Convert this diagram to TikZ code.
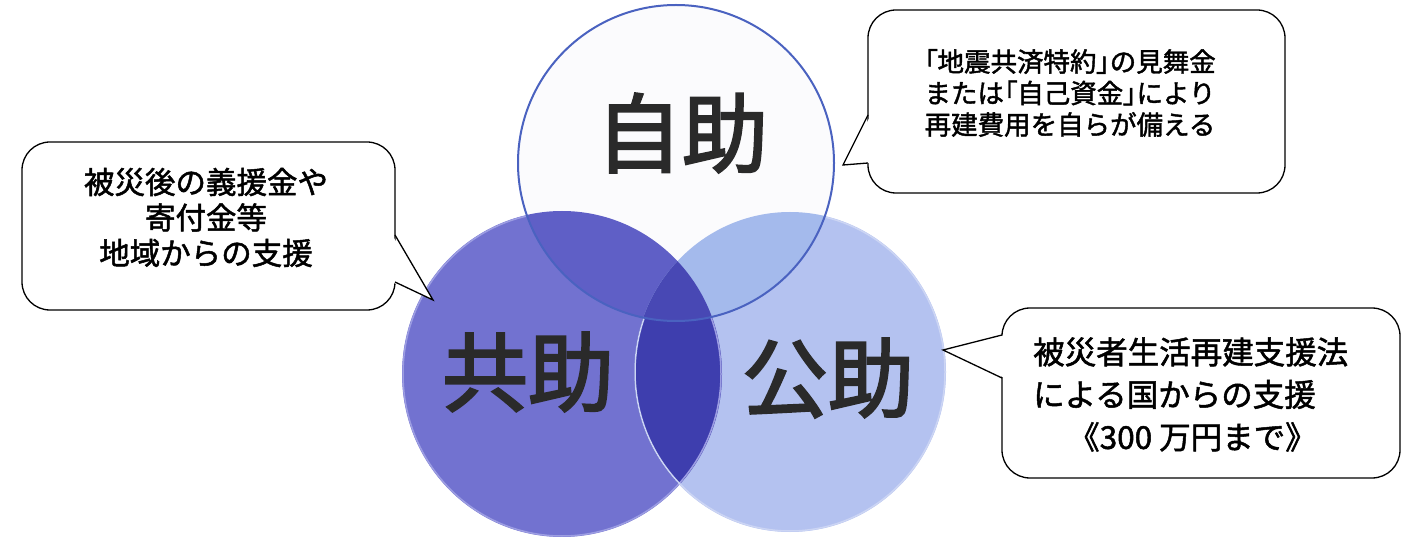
\documentclass[tikz,border=0pt]{standalone}
\usepackage{fontspec}
\newfontfamily\jp[FakeBold=1.6]{Noto Sans CJK JP}
\newfontfamily\jpbig[FakeBold=2.6]{Noto Sans CJK JP}
\newfontfamily\jpp[RawFeature=+palt,FakeBold=1.6]{Noto Sans CJK JP}
\definecolor{kcol}{HTML}{7272D0}
\definecolor{pcol}{HTML}{B4C2F0}
\definecolor{kpcol}{HTML}{3E3EAE}
\definecolor{jcol}{HTML}{FBFBFD}
\definecolor{jkcol}{HTML}{5F5FC6}
\definecolor{jpcol}{HTML}{A4BAEC}
\definecolor{jkpcol}{HTML}{4848B4}
\definecolor{jborder}{HTML}{4A62C0}
\definecolor{kborder}{HTML}{9C9DE2}
\definecolor{pborder}{HTML}{CCD5F4}
\definecolor{labelcol}{HTML}{2A2A2A}
\tikzset{
  ring/.style={circle, inner sep=0pt, outer sep=0pt},
  biglabel/.style={font=\jpbig\fontsize{86}{90}\selectfont, text=labelcol, inner sep=0pt},
  bubble/.style={draw=black, line width=1.3pt, fill=white, rounded corners=28pt, inner sep=0pt},
  calloutline/.style={draw=black, line width=1.3pt, line join=miter},
  bubbletext/.style={inner sep=0pt, text=black}
}
\begin{document}
\begin{tikzpicture}[x=1pt,y=-1pt]
\useasboundingbox (0,0) rectangle (1417,537);
\clip (0,0) rectangle (1417,537);
\fill[white] (0,0) rectangle (1417,537);

% circle nodes
\node[ring, minimum size=316pt] (J) at (676,163) {};
\node[ring, minimum size=320pt] (K) at (562,374) {};
\node[ring, minimum size=312pt] (P) at (790,372) {};

% fills
\fill[kcol] (K.center) circle[x radius=160, y radius=163];
\fill[pcol] (P.center) circle[x radius=156, y radius=160];
\begin{scope}
  \clip (K.center) circle[x radius=160, y radius=163];
  \fill[kpcol] (P.center) circle[x radius=156, y radius=160];
\end{scope}
\draw[kborder, line width=1.5pt] (K.center) circle[x radius=159, y radius=162];
\draw[pborder, line width=1.5pt] (P.center) circle[x radius=155, y radius=159];
\fill[jcol] (J.center) circle[radius=158];
\begin{scope}
  \clip (J.center) circle[radius=158];
  \fill[jkcol] (K.center) circle[x radius=160, y radius=163];
  \fill[jpcol] (P.center) circle[x radius=156, y radius=160];
  \clip (K.center) circle[x radius=160, y radius=163];
  \fill[jkpcol] (P.center) circle[x radius=156, y radius=160];
\end{scope}
\draw[jborder, line width=2pt] (J.center) circle[radius=158];

% big labels
\node[biglabel] (jl) at (682,133) {自助};
\node[biglabel] (kl) at (528,372) {共助};
\node[biglabel] (pl) at (828,378) {公助};

% top-right callout
\node[bubble, minimum width=417pt, minimum height=183pt] (tr) at (1076.5,101.5) {};
\coordinate (trA) at (868,115);
\coordinate (trB) at (868,163);
\coordinate (trT) at (843,165);
\fill[white] (871,115) -- (trT) -- (871,163) -- cycle;
\draw[calloutline] (trA) -- (trT) -- (trB);
\node[bubbletext, align=center, font=\jp\fontsize{26.5}{31.5}\selectfont] (trt) at (1070,93)
  {{\jpp 「}地震共済特約{\jpp 」}の見舞金\\または{\jpp 「}自己資金{\jpp 」}により\\再建費用を自らが備える};

% left callout
\node[bubble, minimum width=373pt, minimum height=168pt] (lf) at (208.5,226) {};
\coordinate (lfA) at (395,235);
\coordinate (lfB) at (395,282);
\coordinate (lfT) at (433,300);
\fill[white] (392,235) -- (lfT) -- (392,282) -- cycle;
\draw[calloutline] (lfA) -- (lfT) -- (lfB);
\node[bubbletext, align=center, font=\jp\fontsize{30.5}{35.5}\selectfont] (lft) at (206,217.5)
  {被災後の義援金や\\寄付金等\\地域からの支援};

% right callout
\node[bubble, minimum width=398pt, minimum height=170pt] (rt) at (1201,393) {};
\coordinate (rtA) at (1002,335);
\coordinate (rtB) at (1002,378);
\coordinate (rtT) at (943,350);
\fill[white] (1005,335) -- (rtT) -- (1005,378) -- cycle;
\draw[calloutline] (rtA) -- (rtT) -- (rtB);
\node[bubbletext, align=left, anchor=west, font=\jp\fontsize{31.5}{42.5}\selectfont] (rtt) at (1033,394.5)
  {被災者生活再建支援法\\による国からの支援\\\hspace*{35pt}《300 万円まで》};
\end{tikzpicture}
\end{document}
